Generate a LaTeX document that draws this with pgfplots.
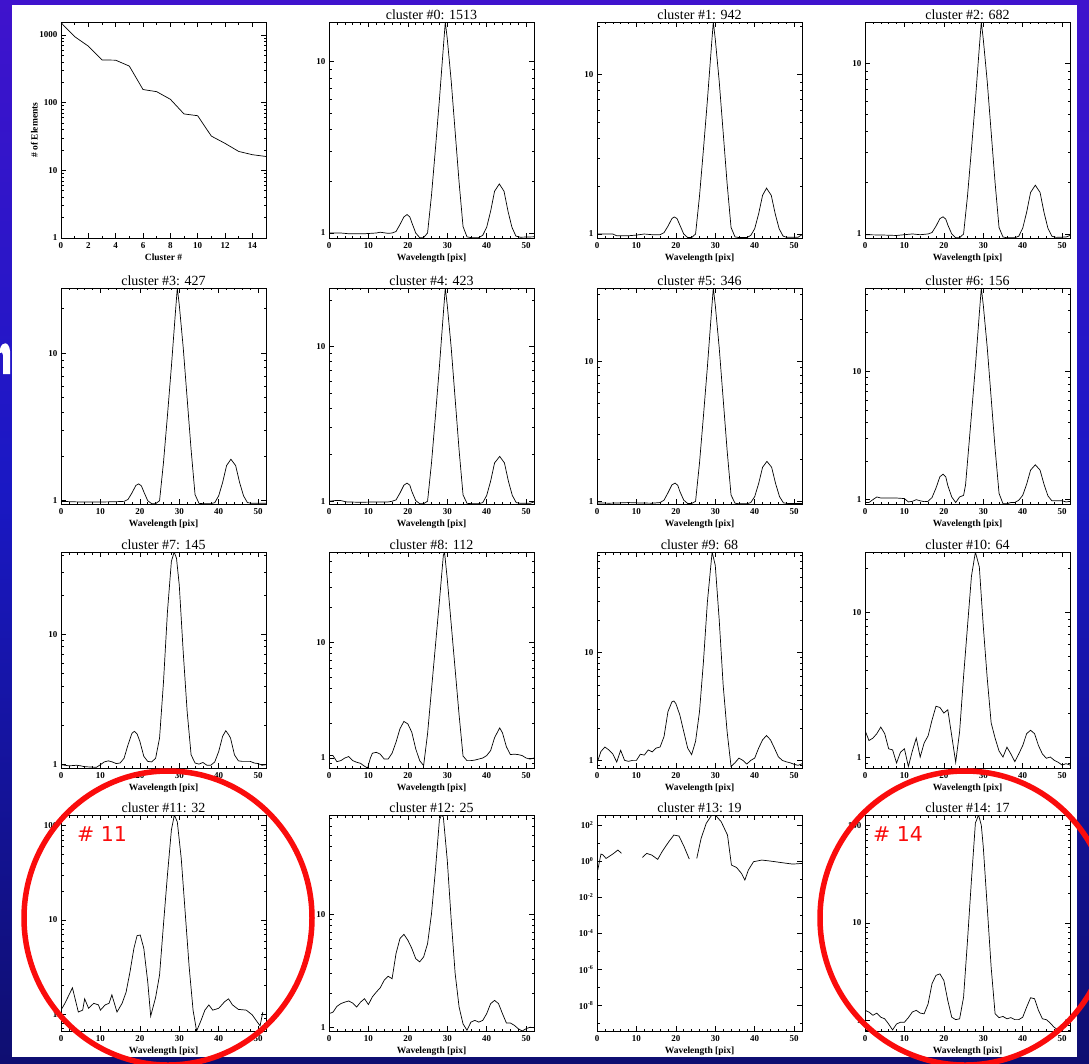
\documentclass[border=0pt]{standalone}
\usepackage{pgfplots}
\pgfplotsset{compat=1.18}
\usepackage{fontspec}
\setmainfont{Liberation Serif}
\newfontfamily\dejavu{DejaVu Sans}

\definecolor{topc}{RGB}{104,14,214}
\definecolor{midc}{RGB}{26,24,196}
\definecolor{lowc}{RGB}{14,14,110}
\definecolor{botc}{RGB}{0,0,36}
\definecolor{circ}{RGB}{250,12,12}
\pgfdeclareverticalshading{slidebg}{100bp}{color(0bp)=(botc); color(24bp)=(lowc); color(52bp)=(midc); color(100bp)=(topc)}

\newcommand{\tickf}{\fontsize{9}{9}\selectfont\bfseries}
\newcommand{\titf}{\fontsize{14}{14}\selectfont}
\newcommand{\labf}{\fontsize{9.5}{10}\selectfont\bfseries}

\pgfplotsset{
  idl/.style={scale only axis, width=205pt, height=216pt, anchor=north west,
    xmin=0, xmax=52, xtick={0,10,...,50}, minor x tick num=4,
    major tick length=5pt, minor tick length=2.5pt,
    tick style={black, line width=0.5pt}, axis line style={line width=0.7pt},
    ticklabel style={font=\tickf},
    xticklabel={\pgfmathprintnumber[assume math mode=true]{\tick}},
    xticklabel style={yshift=-1pt},
    title style={font=\titf, yshift=-7pt},
    xlabel={Wavelength [pix]}, xlabel style={font=\labf, yshift=2pt},
    ytick={1,10,100}, yticklabels={1,10,100},
    minor ytick={0.6,0.7,0.8,0.9,2,3,4,5,6,7,8,9,20,30,40,50,60,70,80,90,200},
    every axis plot post/.append style={black, line width=0.7pt, mark=none}},
}

\begin{document}
\begin{tikzpicture}[x=1pt,y=-1pt]
\useasboundingbox (0,0) rectangle (1089,1063);
\clip (0,0) rectangle (1089,1063);
\shade[shading=slidebg] (0,0) rectangle (1089,1063);
% edge of a slide letter peeking out on the left
\fill[white] (0,349) .. controls (2,341) and (9,341) .. (10,351) -- (10,374) -- (3,374) -- (3,355) .. controls (2,352) .. (0,353) -- cycle;
\fill[white] (12,5) rectangle (1077,1057);

% row 1
\begin{semilogyaxis}[idl, at={(61pt,-22pt)}, xmin=0, xmax=15, xtick={0,2,...,14}, minor x tick num=1,
  ymin=1, ymax=1550, ytick={1,10,100,1000}, yticklabels={1,10,100,1000},
  minor ytick={2,3,4,5,6,7,8,9,20,30,40,50,60,70,80,90,200,300,400,500,600,700,800,900},
  xlabel={Cluster \#}, ylabel={\# of Elements}, ylabel style={font=\labf, yshift=-5pt}]
\addplot coordinates {(0,1513)(1,942)(2,682)(3,427)(4,423)(5,346)(6,156)(7,145)(8,112)(9,68)(10,64)(11,32)(12,25)(13,19)(14,17)(15,16)};
\end{semilogyaxis}

\begin{semilogyaxis}[idl, at={(329pt,-22pt)}, ymin=0.935, ymax=16.9, title={cluster \#0: 1513}]
\addplot coordinates {(0,1.00)(3,1.00)(5,0.99)(9,0.99)(12,1.00)(13,1.01)(15,0.995)(16,1.0)(17,1.02)(18,1.12)(19,1.24)(19.8,1.28)(20.5,1.24)(21,1.15)(22,1.0)(23,0.94)(24,0.94)(25,1.0)(26,1.66)(27,3.10)(28,5.94)(29,12.0)(29.5,16.9)(30,13.5)(31,7.66)(32,3.88)(33,1.97)(34,1.09)(35,0.95)(36,0.94)(38,0.94)(39,0.97)(40,1.08)(41,1.34)(42,1.75)(43.2,1.93)(44.4,1.75)(45.4,1.34)(46.4,1.08)(47.4,0.96)(48.5,0.945)(52,0.95)};
\end{semilogyaxis}

\begin{semilogyaxis}[idl, at={(597pt,-22pt)}, ymin=0.944, ymax=21.4, title={cluster \#1: 942}]
\addplot coordinates {(0,1.0)(4,1.0)(5,0.975)(8,0.975)(10,0.985)(12,1.0)(14,0.99)(16,0.99)(17,1.02)(18,1.12)(19,1.25)(19.6,1.28)(20.3,1.25)(21,1.14)(22,1.0)(23,0.95)(24,0.95)(25,1.0)(26,1.73)(27,3.40)(28,6.89)(29,14.8)(29.5,21.4)(30,16.7)(31,9.07)(32,4.35)(33,2.08)(34,1.10)(35,0.96)(36,0.95)(38,0.95)(39,0.98)(40,1.08)(41,1.34)(42,1.75)(43,1.94)(44.2,1.75)(45.2,1.34)(46.2,1.08)(47.2,0.97)(48,0.955)(51,0.955)(52,0.99)};
\end{semilogyaxis}

\begin{semilogyaxis}[idl, at={(865pt,-22pt)}, ymin=0.947, ymax=17.4, title={cluster \#2: 682}]
\addplot coordinates {(0,0.99)(5,0.985)(8,0.98)(10,0.99)(12,1.0)(14,0.99)(16,1.0)(17,1.02)(18,1.11)(19,1.23)(19.8,1.26)(20.5,1.22)(21,1.13)(22,1.0)(23,0.95)(24,0.95)(25,1.0)(26,1.67)(27,3.13)(28,6.05)(29,12.4)(29.5,17.4)(30,13.8)(31,7.82)(32,3.94)(33,1.99)(34,1.09)(35,0.96)(36,0.95)(38,0.95)(39,0.97)(40,1.08)(41,1.34)(42,1.75)(43.2,1.93)(44.4,1.75)(45.4,1.34)(46.4,1.08)(47.4,0.97)(48.5,0.955)(51,0.96)(52,0.98)};
\end{semilogyaxis}

% row 2
\begin{semilogyaxis}[idl, at={(61pt,-288pt)}, ymin=0.95, ymax=27.6, title={cluster \#3: 427}]
\addplot coordinates {(0,0.99)(5,0.98)(10,0.98)(14,0.985)(16,0.99)(17,1.02)(18,1.13)(19,1.27)(19.7,1.30)(20.4,1.26)(21,1.15)(22,1.0)(23,0.955)(24,0.955)(25,1.0)(26,1.82)(27,3.77)(28,8.09)(29,18.5)(29.5,27.6)(30,21.2)(31,10.9)(32,4.92)(33,2.22)(34,1.10)(35,0.96)(36,0.955)(38,0.955)(39,0.97)(40,1.08)(41,1.33)(42,1.73)(43.1,1.91)(44.3,1.73)(45.3,1.33)(46.3,1.08)(47.3,0.97)(48.5,0.96)(52,0.96)};
\end{semilogyaxis}

\begin{semilogyaxis}[idl, at={(329pt,-288pt)}, ymin=0.96, ymax=23.9, title={cluster \#4: 423}]
\addplot coordinates {(0,1.0)(1.5,1.01)(3,1.01)(4.5,0.99)(8,0.985)(12,0.99)(15,0.99)(16,1.0)(17,1.02)(18,1.13)(19,1.27)(19.8,1.31)(20.5,1.27)(21,1.16)(22,1.01)(23,0.965)(24,0.965)(25,1.0)(26,1.77)(27,3.56)(28,7.38)(29,16.3)(29.5,23.9)(30,18.5)(31,9.82)(32,4.58)(33,2.14)(34,1.10)(35,0.97)(36,0.965)(38,0.965)(39,0.98)(40,1.09)(41,1.35)(42,1.77)(43.3,1.95)(44.5,1.77)(45.5,1.35)(46.5,1.09)(47.5,0.98)(48.5,0.97)(51,0.97)(52,0.99)};
\end{semilogyaxis}

\begin{semilogyaxis}[idl, at={(597pt,-288pt)}, ymin=0.957, ymax=33.4, title={cluster \#5: 346}]
\addplot coordinates {(0,0.975)(3,0.97)(6,0.975)(8,0.98)(10,0.975)(14,0.97)(16,0.98)(17,1.02)(18,1.15)(19,1.31)(19.8,1.35)(20.5,1.3)(21,1.18)(22,1.02)(23,0.965)(24,0.965)(25,1.0)(26,1.88)(27,4.07)(28,9.12)(29,21.9)(29.5,33.4)(30,25.2)(31,12.5)(32,5.39)(33,2.32)(34,1.11)(35,0.97)(36,0.96)(38,0.96)(39,0.98)(40,1.08)(41,1.34)(42,1.75)(43.1,1.93)(44.3,1.75)(45.3,1.34)(46.3,1.08)(47.3,0.975)(48.5,0.965)(52,0.965)};
\end{semilogyaxis}

\begin{semilogyaxis}[idl, at={(865pt,-288pt)}, ymin=0.925, ymax=44.6, title={cluster \#6: 156}]
\addplot coordinates {(0,0.95)(1,0.95)(2,1.0)(3,1.05)(4,1.03)(6,1.03)(8,1.03)(10,1.02)(11,0.96)(12,0.97)(13,1.0)(14,0.98)(15,0.965)(16,0.97)(17,1.04)(18,1.23)(19,1.51)(19.8,1.58)(20.5,1.5)(21,1.29)(22,1.05)(23,0.95)(24,1.05)(25,1.08)(25.5,1.3)(26,1.98)(27,4.57)(28,10.9)(29,28.3)(29.5,44.6)(30,32.9)(31,15.4)(32,6.19)(33,2.49)(34,1.12)(35,0.93)(36,0.93)(37,0.95)(38,0.95)(39,0.99)(40,1.08)(41,1.32)(42,1.7)(43.2,1.87)(44.4,1.7)(45.4,1.32)(46.4,1.07)(47.4,0.98)(50,0.98)(51,0.96)(52,0.97)};
\end{semilogyaxis}

% row 3
\begin{semilogyaxis}[idl, at={(61pt,-552pt)}, ymin=0.943, ymax=42.5, title={cluster \#7: 145}]
\addplot coordinates {(0,1.0)(1,0.99)(2,0.98)(4,0.99)(5,0.98)(6,0.965)(9,0.955)(10,1.0)(11,1.05)(12,1.07)(13,1.05)(14,1.02)(15,1.03)(16,1.12)(17,1.42)(18,1.74)(18.6,1.8)(19.3,1.72)(20,1.51)(21,1.16)(22,1.06)(23,1.05)(24,1.12)(25,1.6)(26,4.3)(27,14.8)(28,36)(28.7,42.5)(29.3,38)(30,23.7)(31,7.3)(32,2.55)(33,1.19)(34,1.03)(35,1.01)(36,1.04)(37,0.99)(38,0.99)(39,1.05)(40,1.26)(41,1.65)(41.8,1.82)(42.5,1.7)(43,1.6)(44,1.19)(45,1.07)(46,1.06)(48,1.06)(49,1.03)(50,1.02)(51,0.99)(52,1.0)};
\end{semilogyaxis}

\begin{semilogyaxis}[idl, at={(329pt,-552pt)}, ymin=0.82, ymax=60, title={cluster \#8: 112}]
\addplot coordinates {(0,1.05)(1,1.05)(2,0.93)(3,0.95)(4,1.0)(5,1.03)(6,0.95)(7,0.92)(8,0.9)(9,0.85)(9.8,0.82)(10.5,1.0)(11,1.1)(12,1.12)(13,1.08)(14,0.98)(15,0.98)(16,1.1)(17,1.37)(18,1.79)(19,2.07)(20,1.97)(21,1.67)(22,1.2)(23,0.95)(24,0.86)(25,1.62)(26,3.9)(27,9.35)(28,22.4)(29,56)(29.3,60)(30,35)(31,14.3)(32,5.8)(33,2.35)(34,1.04)(35,0.95)(36,0.95)(37,0.96)(38,0.98)(39,1.0)(40,1.05)(41,1.16)(42,1.5)(43.3,1.82)(44,1.65)(45,1.25)(46,1.07)(47,1.08)(48,1.07)(49,1.05)(50,1.0)(51,0.98)(52,1.0)};
\end{semilogyaxis}

\begin{semilogyaxis}[idl, at={(597pt,-552pt)}, ymin=0.85, ymax=85, title={cluster \#9: 68}]
\addplot coordinates {(0,0.945)(1,1.21)(2,1.33)(3,1.25)(4,1.15)(5,0.965)(6,1.24)(7,1.0)(8,0.98)(9,1.0)(10,1.0)(11,1.14)(12,1.12)(13,1.25)(14,1.2)(15,1.3)(16,1.33)(17,1.66)(18,2.83)(19,3.48)(19.5,3.55)(20,3.36)(21,2.64)(22,1.85)(23,1.30)(24,1.13)(25,1.5)(26,2.83)(27,8.2)(28,29.3)(29.2,85)(30,64)(31,20)(32,4.98)(33,1.85)(34,0.88)(35,0.95)(36,1.05)(37,1.0)(38,0.925)(39,1.0)(40,1.05)(41,1.3)(42,1.55)(43,1.7)(44,1.55)(45,1.3)(46,1.08)(47,1.0)(48,0.97)(49,0.95)(50,0.92)(51,0.9)(52,0.93)};
\end{semilogyaxis}

\begin{semilogyaxis}[idl, at={(865pt,-552pt)}, ymin=0.84, ymax=26, title={cluster \#10: 64}]
\addplot coordinates {(0,1.53)(1,1.30)(2,1.35)(3,1.45)(4,1.61)(5,1.45)(6,1.14)(7,1.12)(8,0.91)(9,1.08)(10,1.14)(11,0.86)(12,1.1)(13,1.35)(14,1.0)(15,1.25)(16,1.4)(17,1.8)(18,2.24)(19,2.2)(20,2.01)(21,2.12)(22,1.4)(23,0.92)(24,1.5)(25,3.6)(26,8.0)(27,17.7)(28,26)(29,20.5)(30,8.0)(31,3.5)(32,1.72)(33,1.35)(34,1.1)(35,1.0)(36,1.17)(37,1.05)(38,0.93)(39,1.05)(40,1.2)(41,1.45)(42,1.53)(43,1.45)(44,1.2)(45,1.05)(46,0.98)(47,1.0)(48,0.95)(49,0.92)(50,0.88)(51,0.9)(52,0.88)};
\end{semilogyaxis}

% row 4
\begin{semilogyaxis}[idl, at={(61pt,-815pt)}, ymin=0.66, ymax=130, title={cluster \#11: 32}]
\addplot coordinates {(0,1.1)(1,1.3)(2.9,1.9)(4.4,1.05)(5.5,1.1)(6,1.45)(7,1.15)(8.3,1.3)(9.5,1.25)(10,1.1)(11.2,1.25)(12.2,1.3)(12.9,1.6)(14.2,1.05)(15.5,1.3)(16.5,1.7)(17.5,2.8)(18.5,5)(19.3,6.8)(20.1,6.9)(21,5)(22,2.2)(22.75,0.95)(24,1.5)(25,2.6)(26,9)(27,30)(28,90)(28.75,130)(29.5,110)(30.5,45)(31.5,12)(32.5,3.2)(33.5,1.1)(34.4,0.66)(35.5,0.85)(36.5,1.1)(37.5,1.25)(38.5,1.1)(40,1.15)(41.5,1.35)(42.5,1.45)(43.5,1.25)(45,1.12)(47,1.1)(48.5,0.98)(50,0.8)(50.5,0.75)(51.2,1.05)};
\end{semilogyaxis}

\begin{semilogyaxis}[idl, at={(329pt,-815pt)}, ymin=0.935, ymax=74.8, title={cluster \#12: 25}]
\addplot coordinates {(0,1.33)(1,1.37)(2,1.54)(3,1.63)(4,1.68)(5,1.72)(6,1.65)(7,1.52)(8,1.68)(9,1.8)(10,1.6)(11,1.87)(12,2.06)(13,2.25)(14,2.62)(15,2.84)(16,2.7)(17,4.5)(18,6.1)(19,6.65)(20,5.9)(21,5.0)(22,4.06)(23,3.8)(24,4.2)(25,5.5)(26,10.1)(27,24.5)(28,67.5)(28.5,74.8)(29,72)(30,29.9)(31,8.9)(32,3.0)(33,1.52)(34,1.08)(35,0.95)(36,1.12)(37,1.16)(38,1.12)(39,1.16)(40,1.33)(41,1.63)(42,1.74)(43,1.63)(44,1.33)(45,1.1)(46,1.1)(47,1.05)(48,0.98)(49,0.935)(50,0.98)(51,1.01)(52,1.0)};
\end{semilogyaxis}

\begin{semilogyaxis}[idl, at={(597pt,-815pt)}, ymin=3.7e-10, ymax=360, title={cluster \#13: 19},
  ytick={1e-8,1e-6,1e-4,1e-2,1,100},
  yticklabels={10\textsuperscript{-8},10\textsuperscript{-6},10\textsuperscript{-4},10\textsuperscript{-2},10\textsuperscript{0},10\textsuperscript{2}},
  minor ytick={1e-9,1e-7,1e-5,1e-3,0.1,10}]
\addplot coordinates {(0.2,0.32)(1,2.45)(1.5,2.2)(2.3,1.4)(4,2.45)(5.3,4.1)(6.2,2.7)};
\addplot coordinates {(11.5,1.6)(12.6,2.67)(13.9,2.15)(15.4,1.24)(16.5,3.3)(18.2,11.8)(19.5,27.8)(20.8,24.5)(22.1,6.25)(23.4,1.3)};
\addplot coordinates {(25.3,1.4)(26.4,18)(27.7,123)(29,330)(30,360)(31.5,153)(33.1,27.8)(34.1,0.6)(35.4,0.44)(36.7,0.2)(37.5,0.088)(38.4,0.32)(39.7,0.92)(41.8,1.14)(44,1.0)(47,0.81)(49.6,0.68)(52,0.74)};
\end{semilogyaxis}

\begin{semilogyaxis}[idl, at={(865pt,-815pt)}, ymin=0.78, ymax=127, title={cluster \#14: 17}]
\addplot coordinates {(0,1.27)(1,1.22)(2,1.13)(3,1.19)(4,1.08)(5,1.04)(6,0.92)(7,0.80)(8,0.92)(9,0.96)(10,0.96)(11,1.07)(12,1.22)(13,1.27)(14,1.19)(15,1.17)(16,1.48)(17,2.38)(18,2.9)(19,3.0)(20,2.57)(21,1.6)(22,1.08)(23,1.02)(24,1.04)(25,1.73)(26,6.6)(27,27.4)(28,105)(28.8,127)(29.5,100)(30,60)(31,14.6)(32,3.5)(33,1.17)(34,1.07)(35,1.1)(36,1.04)(37,1.07)(38,1.02)(39,1.02)(40,1.08)(41,1.37)(42,1.71)(43,1.67)(44,1.27)(45,1.04)(46,1.02)(47,0.94)(48,0.85)(49,0.80)(50,0.85)(51,1.02)(52,0.96)};
\end{semilogyaxis}

\draw[circ, line width=5.5pt] (168,918) ellipse [x radius=144pt, y radius=147pt];
\draw[circ, line width=5.5pt] (965,918) ellipse [x radius=145pt, y radius=147pt];
\node[text=circ, font=\dejavu\fontsize{20.5}{21}\selectfont, anchor=base west, inner sep=0pt] at (77,841) {\# 11};
\node[text=circ, font=\dejavu\fontsize{20.5}{21}\selectfont, anchor=base west, inner sep=0pt] at (873,841) {\# 14};
\end{tikzpicture}
\end{document}
